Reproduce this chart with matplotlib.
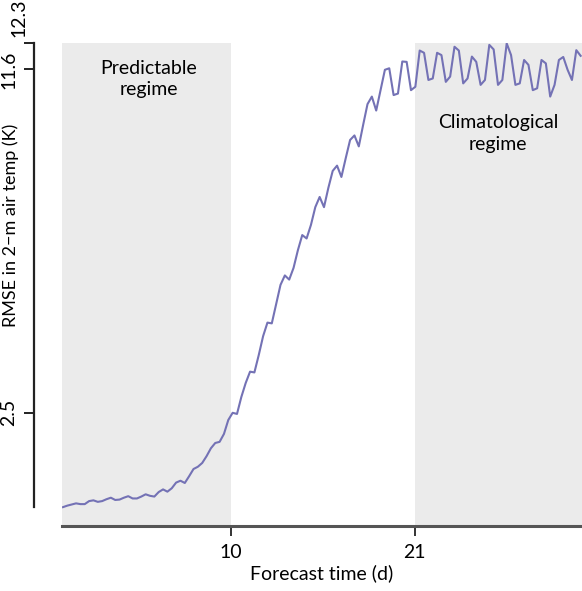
import numpy as np
import matplotlib
matplotlib.use("Agg")
import matplotlib.pyplot as plt

# ---- data ----
rmse = [0.00, 0.04, 0.07, 0.10, 0.08, 0.08, 0.16, 0.18, 0.14, 0.16,
        0.21, 0.25, 0.19, 0.20, 0.25, 0.29, 0.23, 0.23, 0.28, 0.34,
        0.30, 0.28, 0.40, 0.47, 0.41, 0.50, 0.65, 0.70, 0.64, 0.82,
        1.01, 1.07, 1.17, 1.35, 1.56, 1.70, 1.73, 1.94, 2.31, 2.50,
        2.47, 2.92, 3.29, 3.59, 3.57, 4.03, 4.53, 4.89, 4.87, 5.38,
        5.89, 6.14, 6.03, 6.34, 6.81, 7.21, 7.12, 7.48, 7.95, 8.22,
        7.95, 8.46, 8.91, 9.05, 8.75, 9.25, 9.73, 9.85, 9.56, 10.13,
        10.68, 10.88, 10.51, 11.05, 11.59, 11.63, 10.92, 10.96, 11.81, 11.80,
        11.05, 11.14, 12.10, 12.04, 11.32, 11.36, 12.04, 11.98, 11.27, 11.41,
        12.20, 12.10, 11.23, 11.36, 11.94, 11.80, 11.19, 11.32, 12.25, 12.13,
        11.19, 11.32, 12.29, 11.98, 11.19, 11.23, 11.85, 11.72, 11.05, 11.10,
        11.85, 11.76, 10.88, 11.19, 11.85, 11.93, 11.59, 11.32, 12.11, 11.96]
time_step = 0.261          # days between samples
time_start = -0.09
xticks = [10, 21]
xtick_labels = ["10", "21"]
yticks = [2.5, 11.6, 12.3]
ytick_labels = ["2.5", "11.6", ""]
regimes = [("Predictable\nregime", None, 10), ("Climatological\nregime", 21, None)]

t = time_start + time_step * np.arange(len(rmse))

# ---- figure ----
plt.rcParams['font.family'] = ['Lato', 'DejaVu Sans']
FS = 14
fig = plt.figure(figsize=(5.82, 5.91), dpi=100)
ax = fig.add_axes([62/582, 65/591, 520/582, 483/591])

xmin, xmax = -0.15, 31.05
ymin, ymax = -0.5, 12.3
ax.set_xlim(xmin, xmax)
ax.set_ylim(ymin, ymax)

shade = '#ebebeb'
ax.axvspan(xmin, regimes[0][2], ymin=0, ymax=1, color=shade, lw=0, zorder=0)
ax.axvspan(regimes[1][1], xmax, ymin=0, ymax=1, color=shade, lw=0, zorder=0)

ax.plot(t, rmse, color='#7472b5', lw=1.5, zorder=2)

ax.text(5.05, 11.35, regimes[0][0], ha='center', va='center', fontsize=FS,
        color='#000000', linespacing=1.3)
ax.text(26.0, 9.9, regimes[1][0], ha='center', va='center', fontsize=FS,
        color='#000000', linespacing=1.3)

# spines
for s in ['top', 'right']:
    ax.spines[s].set_visible(False)
ax.spines['left'].set_position(('outward', 20))
ax.spines['left'].set_bounds(0, 12.3)
ax.spines['left'].set_linewidth(1.6)
ax.spines['left'].set_color('#222222')
ax.spines['bottom'].set_linewidth(2.2)
ax.spines['bottom'].set_color('#555555')

ax.set_xticks(xticks)
ax.set_xticklabels(xtick_labels, fontsize=FS)
ax.set_yticks(yticks)
ax.set_yticklabels(ytick_labels, fontsize=FS, rotation=90, va='center')
ax.tick_params(axis='x', length=7, width=1.4, color='#333333', pad=6)
ax.tick_params(axis='y', length=7, width=1.4, color='#222222', pad=5)

ax.annotate("12.3", xy=(0, 12.3), xycoords=('axes fraction', 'data'),
            xytext=(-43, 25), textcoords='offset pixels', rotation=90,
            ha='center', va='center', fontsize=FS)

ax.set_xlabel("Forecast time (d)", fontsize=FS, labelpad=2)
ax.set_ylabel("RMSE in 2\u2212m air temp (K)", fontsize=13)
ax.yaxis.set_label_coords(-0.083, 0.623)

fig.savefig("out.png", dpi=100)
